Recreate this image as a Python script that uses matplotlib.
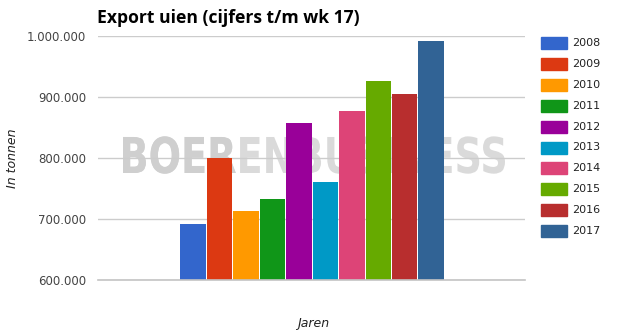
import matplotlib.pyplot as plt
import matplotlib.patches as mpatches
from matplotlib.textpath import TextPath
from matplotlib.font_manager import FontProperties
from matplotlib.transforms import Affine2D, IdentityTransform
import numpy as np

# data
jaren = ['2008', '2009', '2010', '2011', '2012', '2013', '2014', '2015', '2016', '2017']
export = [692000, 800000, 713000, 733000, 857000, 761000, 877000, 926000, 905000, 992000]
kleuren = ['#3366cc', '#dc3912', '#ff9900', '#109618', '#990099',
           '#0099c6', '#dd4477', '#66aa00', '#b82e2e', '#316395']
yticks = [600000, 700000, 800000, 900000, 1000000]
ylabels = ['600.000', '700.000', '800.000', '900.000', '1.000.000']

W, H = 617, 334
fig = plt.figure(figsize=(W / 100, H / 100), dpi=100)
ax = fig.add_axes([98 / W, 1 - 280 / H, 427 / W, 244 / H])

n = len(jaren)
x = np.arange(n)
ax.bar(x, [v - 600000 for v in export], bottom=600000, width=0.96,
       color=kleuren, zorder=3, edgecolor='none')
ax.set_xlim(-3.6, n - 1 + 3.55)
ax.set_ylim(600000, 1000000)
ax.set_yticks(yticks)
ax.set_yticklabels(ylabels)
ax.set_xticks([])
ax.tick_params(axis='y', length=0, labelsize=8.5, labelcolor='#444444', pad=8.6)
ax.grid(axis='y', color='#cccccc', linewidth=1, zorder=2)
ax.set_axisbelow(False)
ax.axhline(600000, color='#c4c4c4', linewidth=1.2, zorder=4, clip_on=False)
for s in ax.spines.values():
    s.set_visible(False)

# watermark (squeezed heavy lettering)
fp = FontProperties(family='DejaVu Sans', weight='bold')
vol = TextPath((0, 0), 'BOERENBUSINESS', size=1, prop=fp)
deel = TextPath((0, 0), 'BOER', size=1, prop=fp)
ext = vol.get_extents()
sy = 36 / 0.729
sx = 382 / ext.width
tr = Affine2D().translate(-ext.x0, 0).scale(sx, sy).translate(123, H - 173)
for pad_, kleur in [(vol, '#dadada'), (deel, '#cfcfcf')]:
    p = mpatches.PathPatch(tr.transform_path(pad_), facecolor=kleur, edgecolor='none',
                           transform=IdentityTransform(), zorder=1)
    ax.add_artist(p)

fig.text(13 / W, 1 - 158 / H, 'In tonnen', rotation=90, fontstyle='italic', fontsize=9,
         color='#222222', ha='center', va='center')
fig.text(313 / W, 1 - 323 / H, 'Jaren', fontstyle='italic', fontsize=9,
         color='#222222', ha='center', va='center')
fig.text(97 / W, 1 - 18 / H, 'Export uien (cijfers t/m wk 17)', fontsize=12.6,
         fontweight='bold', family='Open Sans', ha='left', va='center')

# legend
for i, (c, j) in enumerate(zip(kleuren, jaren)):
    yc = 43 + i * 20.9
    fig.add_artist(mpatches.Rectangle((541 / W, 1 - (yc + 6) / H), 26 / W, 12 / H,
                                      transform=fig.transFigure, color=c))
    fig.text(572 / W, 1 - yc / H, j, fontsize=8, color='#222222', ha='left', va='center')

fig.savefig('out.png', dpi=100)
